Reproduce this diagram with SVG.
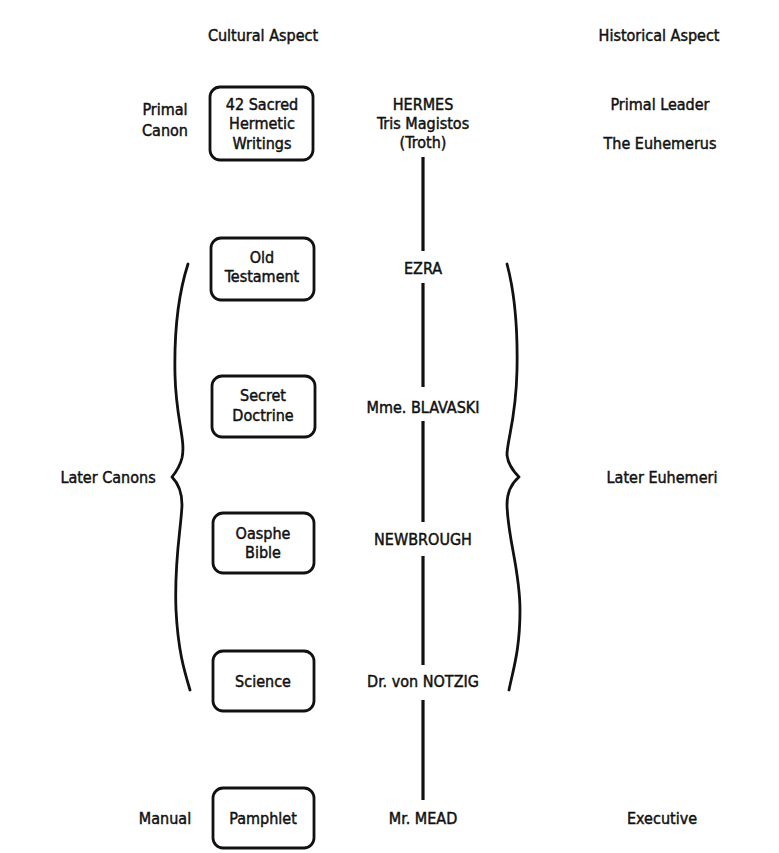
<svg xmlns="http://www.w3.org/2000/svg" width="779" height="853" viewBox="0 0 779 853">
<style>
text{font-family:"Liberation Sans Narrow","DejaVu Sans Condensed","Liberation Sans",sans-serif;font-size:16px;fill:#111;stroke:#111;stroke-width:0.45;text-anchor:middle;dominant-baseline:central;}
.box{fill:none;stroke:#111;stroke-width:2.8;}
.ln{fill:none;stroke:#111;stroke-width:3.2;}
.br{fill:none;stroke:#111;stroke-width:2.8;stroke-linejoin:round;stroke-linecap:round;}
</style>
<rect width="779" height="853" fill="#fff"/>
<g id="headers">
<text x="263" y="35">Cultural Aspect</text>
<text x="659" y="35">Historical Aspect</text>
</g>
<g id="connectors">
<line class="ln" x1="423" y1="157" x2="423" y2="251"/>
<line class="ln" x1="423" y1="283" x2="423" y2="387"/>
<line class="ln" x1="423" y1="421" x2="423" y2="522"/>
<line class="ln" x1="423" y1="556" x2="423" y2="665"/>
<line class="ln" x1="423" y1="700" x2="423" y2="800"/>
</g>
<g id="braces">
<path class="br" d="M188,264 C178,295 174,330 175,375 C176,420 186,440 182,458 C180,466 176,472 172,477 C177,482 182,490 182,505 C181,530 174,560 176,610 C178,650 184,670 190,690"/>
<path class="br" d="M507,264 C514,290 518,320 517,370 C516,420 507,440 507,455 C508,465 514,472 519,477 C513,482 507,490 507,505 C508,540 520,570 520,610 C520,650 513,670 509,690"/>
</g>
<g id="side-labels">
<text x="165" y="109">Primal</text>
<text x="165" y="130">Canon</text>
<text x="108" y="477">Later Canons</text>
<text x="165" y="818">Manual</text>
<text x="660" y="104">Primal Leader</text>
<text x="660" y="143">The Euhemerus</text>
<text x="662" y="477">Later Euhemeri</text>
<text x="662" y="818">Executive</text>
</g>
<g id="node-hermetic">
<rect class="box" x="210" y="87" width="103" height="73" rx="10"/>
<text x="262" y="104">42 Sacred</text>
<text x="262" y="123">Hermetic</text>
<text x="262" y="143">Writings</text>
</g>
<g id="node-old-testament">
<rect class="box" x="211" y="238" width="103" height="62" rx="10"/>
<text x="262" y="257">Old</text>
<text x="262" y="276">Testament</text>
</g>
<g id="node-secret-doctrine">
<rect class="box" x="212" y="376" width="103" height="61" rx="10"/>
<text x="263" y="395">Secret</text>
<text x="263" y="415">Doctrine</text>
</g>
<g id="node-oasphe">
<rect class="box" x="213" y="513" width="101" height="60" rx="10"/>
<text x="263" y="533">Oasphe</text>
<text x="263" y="552">Bible</text>
</g>
<g id="node-science">
<rect class="box" x="213" y="651" width="101" height="60" rx="10"/>
<text x="263" y="681">Science</text>
</g>
<g id="node-pamphlet">
<rect class="box" x="213" y="788" width="101" height="60" rx="10"/>
<text x="263" y="818">Pamphlet</text>
</g>
<g id="node-hermes">
<text x="423" y="104">HERMES</text>
<text x="423" y="123">Tris Magistos</text>
<text x="423" y="142">(Troth)</text>
</g>
<g id="node-ezra"><text x="423" y="268">EZRA</text></g>
<g id="node-blavaski"><text x="423" y="407">Mme. BLAVASKI</text></g>
<g id="node-newbrough"><text x="423" y="539">NEWBROUGH</text></g>
<g id="node-notzig"><text x="423" y="681">Dr. von NOTZIG</text></g>
<g id="node-mead"><text x="423" y="818">Mr. MEAD</text></g>
</svg>
